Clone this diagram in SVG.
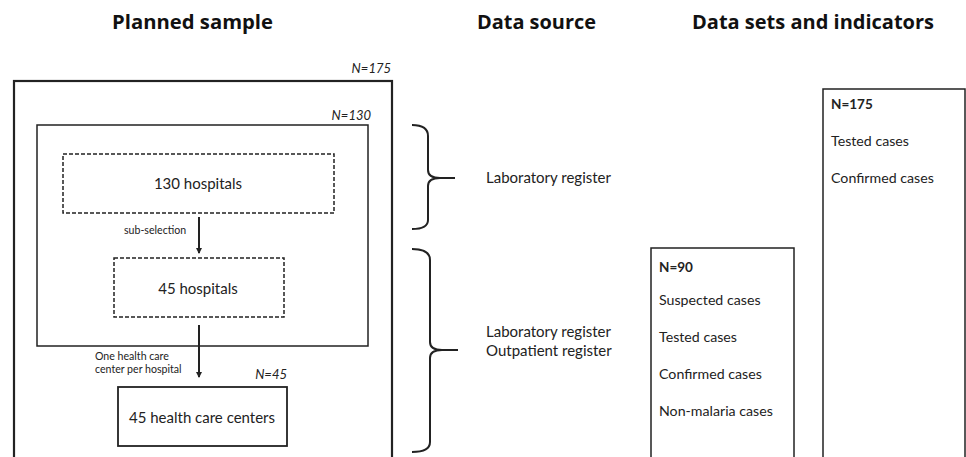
<svg xmlns="http://www.w3.org/2000/svg" width="966" height="457" viewBox="0 0 966 457">
<style>
text{font-family:Lato,"Open Sans","Liberation Sans",sans-serif;fill:#222}
.h{font-family:"Open Sans",Lato,sans-serif;font-weight:bold;font-size:20px;fill:#111;text-anchor:middle}
.n{font-style:italic;font-size:13px;text-anchor:end}
.box{fill:none;stroke:#222}
.dash{fill:none;stroke:#222;stroke-width:1.5;stroke-dasharray:4 2}
.c{font-size:15px;text-anchor:middle}
.s{font-size:10.6px}
.m{font-size:15px}
.r{font-size:14.2px}
.b{font-size:13.5px;font-weight:bold}
.br{fill:none;stroke:#222;stroke-width:2}
.ar{stroke:#222;stroke-width:2;fill:none}
</style>
<defs>
<marker id="ah" markerWidth="6" markerHeight="6" refX="5" refY="3" orient="auto" markerUnits="userSpaceOnUse">
<path d="M0,0 L6,3 L0,6 z" fill="#222"/>
</marker>
</defs>
<g id="headings">
<text class="h" x="192.5" y="29" textLength="161" lengthAdjust="spacingAndGlyphs">Planned sample</text>
<text class="h" x="536.5" y="29" textLength="119" lengthAdjust="spacingAndGlyphs">Data source</text>
<text class="h" x="813" y="29" textLength="242" lengthAdjust="spacingAndGlyphs">Data sets and indicators</text>
</g>
<g id="outer">
<rect class="box" x="14" y="81" width="378" height="400" stroke-width="2.2"/>
<text class="n" x="391" y="73">N=175</text>
</g>
<g id="inner">
<rect class="box" x="37" y="125" width="331" height="221" stroke-width="1.5"/>
<text class="n" x="371" y="120">N=130</text>
</g>
<g id="h130">
<rect class="dash" x="63" y="154" width="271" height="59"/>
<text class="c" x="198" y="189">130 hospitals</text>
</g>
<g id="h45">
<rect class="dash" x="114" y="258" width="170" height="59"/>
<text class="c" x="198" y="294">45 hospitals</text>
</g>
<g id="hcc">
<rect class="box" x="118" y="387" width="169" height="59" stroke-width="1.8"/>
<text class="n" x="287" y="379">N=45</text>
<text class="c" x="202" y="423">45 health care centers</text>
</g>
<g id="connectors">
<line class="ar" x1="199" y1="217" x2="199" y2="253" marker-end="url(#ah)"/>
<text class="s" x="124" y="234">sub-selection</text>
<line class="ar" x1="199" y1="325" x2="199" y2="377" marker-end="url(#ah)"/>
<text class="s" x="95" y="360">One health care</text>
<text class="s" x="95" y="373">center per hospital</text>
</g>
<g id="brace1">
<path class="br" d="M412,125 Q428,125 428,136 L428,170 Q428,178 440,178 L455,178 M440,178 Q428,178 428,186 L428,220 Q428,229 412,229"/>
<text class="m" x="486" y="183">Laboratory register</text>
</g>
<g id="brace2">
<path class="br" d="M412,249 Q430,249 430,260 L430,342 Q430,350 442,350 L458,350 M442,350 Q430,350 430,358 L430,442 Q430,452 412,452"/>
<text class="m" x="486" y="337">Laboratory register</text>
<text class="m" x="486" y="356">Outpatient register</text>
</g>
<g id="set90">
<rect class="box" x="651" y="248" width="143" height="240" stroke-width="1.5"/>
<text class="b" x="659" y="272">N=90</text>
<text class="r" x="659" y="305">Suspected cases</text>
<text class="r" x="659" y="342">Tested cases</text>
<text class="r" x="659" y="379">Confirmed cases</text>
<text class="r" x="659" y="416">Non-malaria cases</text>
</g>
<g id="set175">
<rect class="box" x="823" y="89" width="142" height="400" stroke-width="1.5"/>
<text class="b" x="831" y="109">N=175</text>
<text class="r" x="831" y="146">Tested cases</text>
<text class="r" x="831" y="183">Confirmed cases</text>
</g>
</svg>
